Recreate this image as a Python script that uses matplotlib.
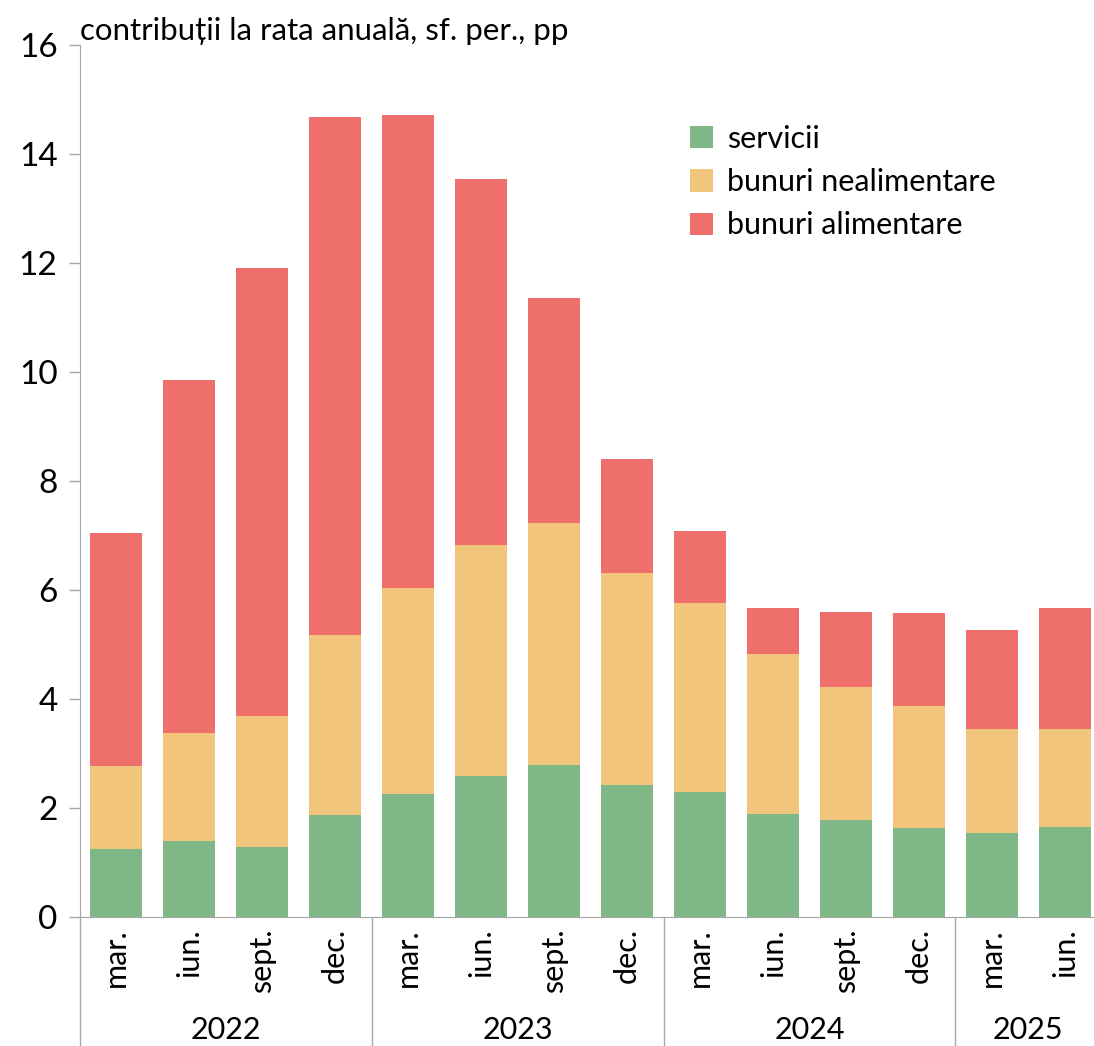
import numpy as np
import matplotlib.pyplot as plt
import matplotlib.transforms as mtransforms

plt.rcParams['font.family'] = ['Lato', 'DejaVu Sans']

luni = ['mar.', 'iun.', 'sept.', 'dec.'] * 3 + ['mar.', 'iun.']
ani = ['2022', '2023', '2024', '2025']
luni_pe_an = [4, 4, 4, 2]

# niveluri cumulate
servicii = [1.25, 1.39, 1.28, 1.87, 2.26, 2.59, 2.79, 2.42, 2.29, 1.89, 1.78, 1.63, 1.54, 1.65]
top_nealim = [2.77, 3.38, 3.69, 5.17, 6.04, 6.83, 7.23, 6.31, 5.76, 4.83, 4.22, 3.87, 3.45, 3.45]
top_total = [7.05, 9.85, 11.90, 14.68, 14.72, 13.54, 11.36, 8.40, 7.08, 5.67, 5.60, 5.58, 5.27, 5.67]

nealimentare = np.array(top_nealim) - np.array(servicii)
alimentare = np.array(top_total) - np.array(top_nealim)

c_serv = '#7FB886'
c_neal = '#F2C57C'
c_alim = '#EF6F6C'
gri = '#A6A6A6'

fig = plt.figure(figsize=(10.94, 10.46), dpi=100)
ax = fig.add_axes([0.073, 0.1233, 0.927, 0.8337])

x = np.arange(len(luni))
w = 0.71
ax.bar(x, servicii, w, color=c_serv, label='servicii')
ax.bar(x, nealimentare, w, bottom=servicii, color=c_neal, label='bunuri nealimentare')
ax.bar(x, alimentare, w, bottom=top_nealim, color=c_alim, label='bunuri alimentare')

ax.set_xlim(-0.5, 13.4)
ax.set_ylim(0, 16)
ax.set_yticks(range(0, 17, 2))
ax.tick_params(axis='y', labelsize=24, color=gri, length=8, width=1, pad=8)
ax.set_xticks(x)
ax.set_xticklabels(luni, rotation=90, fontsize=22)
ax.tick_params(axis='x', length=0, pad=8)

for s in ['top', 'right']:
    ax.spines[s].set_visible(False)
ax.spines['left'].set_color(gri)
ax.spines['bottom'].set_color(gri)

# separatoare si etichete pe ani
trans = mtransforms.blended_transform_factory(ax.transData, ax.transAxes)
start = -0.5
for an, n in zip(ani, luni_pe_an):
    ax.plot([start, start], [0, -0.16], color=gri, lw=1, transform=trans, clip_on=False)
    ax.text(start + n / 2, -0.13, an, transform=trans, ha='center', va='center', fontsize=22)
    start += n

ax.text(0.0, 1.0, 'contribuții la rata anuală, sf. per., pp', transform=ax.transAxes,
        fontsize=22.5, ha='left', va='bottom')

ax.legend(loc='upper left', bbox_to_anchor=(0.575, 0.94), frameon=False, fontsize=22,
          handlelength=0.75, handleheight=0.75, handletextpad=0.45, labelspacing=0.5)

fig.savefig('out.png', dpi=100)
